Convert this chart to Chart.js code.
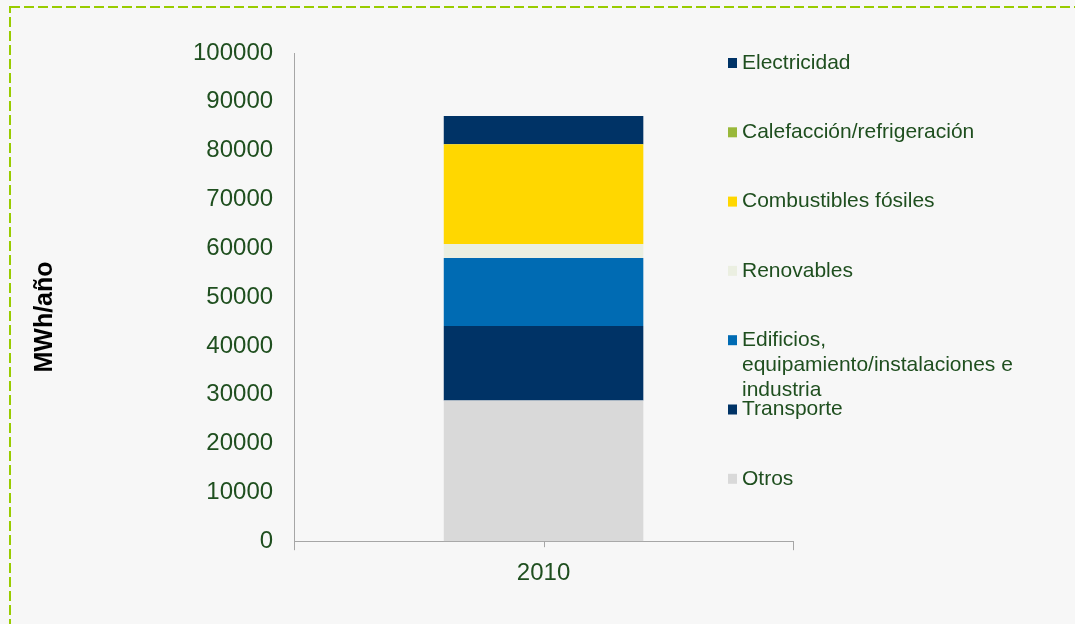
<!DOCTYPE html>
<html>
<head>
<meta charset="utf-8">
<script src="https://cdn.jsdelivr.net/npm/chart.js@4"></script>
<style>
  html, body { margin: 0; padding: 0; background: #f7f7f7; }
  #wrap { width: 1075px; height: 624px; }
</style>
</head>
<body>
<div id="wrap"><canvas id="energyChart"></canvas></div>
<script>
// data (MWh/año)
const categories = ['2010'];
const otros = [28800];
const transporte = [15300];
const edificios = [13900];
const renovables = [2900];
const combustibles = [20400];
const calefaccion = [0];
const electricidad = [5800];

const yMin = 0;
const yMax = 100000;
const yStep = 10000;
const yTitle = 'MWh/año';

const textColor = '#1f4f1f';
const fontFamily = '"Liberation Sans", Arial, sans-serif';

// background, dashed frame, legend, axis title
const decor = {
  id: 'decor',
  beforeDraw(chart) {
    const ctx = chart.ctx;
    ctx.save();
    ctx.fillStyle = '#f7f7f7';
    ctx.fillRect(0, 0, chart.width, chart.height);
    ctx.strokeStyle = '#99cc00';
    ctx.lineWidth = 2;
    ctx.setLineDash([10, 4]);
    ctx.strokeRect(10, 7, chart.width + 20, chart.height + 20);
    ctx.restore();
  },
  afterDraw(chart) {
    const ctx = chart.ctx;
    ctx.save();

    // centre tick under the category
    const x = chart.scales.x;
    const cx = x.getPixelForValue(0);
    ctx.strokeStyle = '#a6a6a6';
    ctx.lineWidth = 1;
    ctx.beginPath();
    ctx.moveTo(Math.round(cx) + 0.5, x.top);
    ctx.lineTo(Math.round(cx) + 0.5, x.top + 6);
    ctx.stroke();

    // legend, top item = top of the stack
    const items = chart.data.datasets.slice().reverse();
    ctx.font = '21px ' + fontFamily;
    ctx.textBaseline = 'middle';
    ctx.textAlign = 'left';
    items.forEach(function(ds, i) {
      const y = 63 + i * 69.3;
      ctx.fillStyle = ds.backgroundColor;
      ctx.fillRect(728, y - 5, 9, 10);
      ctx.fillStyle = textColor;
      const lines = Array.isArray(ds.label) ? ds.label : [ds.label];
      lines.forEach(function(line, j) {
        ctx.fillText(line, 742, y + j * 25);
      });
    });

    // y axis title
    ctx.translate(45, 317);
    ctx.rotate(-Math.PI / 2);
    ctx.textAlign = 'center';
    ctx.fillStyle = '#000';
    ctx.font = 'bold 25px ' + fontFamily;
    ctx.fillText(yTitle, 0, 0);
    ctx.restore();
  }
};

const ctx = document.getElementById('energyChart').getContext('2d');
const energyChart = new Chart(ctx, {
  type: 'bar',
  data: {
    labels: categories,
    datasets: [
      { label: 'Otros', data: otros, backgroundColor: '#d9d9d9' },
      { label: 'Transporte', data: transporte, backgroundColor: '#003366' },
      { label: ['Edificios,', 'equipamiento/instalaciones e', 'industria'], data: edificios, backgroundColor: '#006bb3' },
      { label: 'Renovables', data: renovables, backgroundColor: '#ebefe1' },
      { label: 'Combustibles fósiles', data: combustibles, backgroundColor: '#ffd700' },
      { label: 'Calefacción/refrigeración', data: calefaccion, backgroundColor: '#99b83a' },
      { label: 'Electricidad', data: electricidad, backgroundColor: '#003366' }
    ]
  },
  options: {
    responsive: true,
    maintainAspectRatio: false,
    animation: false,
    layout: {
      padding: { left: 172, right: 282, top: 53, bottom: 27 }
    },
    datasets: {
      bar: { barPercentage: 0.4, categoryPercentage: 1, borderWidth: 0 }
    },
    scales: {
      x: {
        stacked: true,
        grid: { display: true, drawOnChartArea: false, drawTicks: true, tickLength: 9, color: '#a6a6a6', offset: true },
        border: { display: true, color: '#a6a6a6' },
        ticks: { color: textColor, font: { family: fontFamily, size: 24 }, padding: 9 }
      },
      y: {
        stacked: true,
        min: yMin,
        max: yMax,
        grid: { display: false, drawTicks: false },
        border: { display: true, color: '#a6a6a6' },
        ticks: {
          stepSize: yStep,
          color: textColor,
          font: { family: fontFamily, size: 24 },
          padding: 21,
          callback: function(value) { return String(value); }
        }
      }
    },
    plugins: {
      legend: { display: false },
      tooltip: { enabled: false }
    }
  },
  plugins: [decor]
});
</script>
</body>
</html>
